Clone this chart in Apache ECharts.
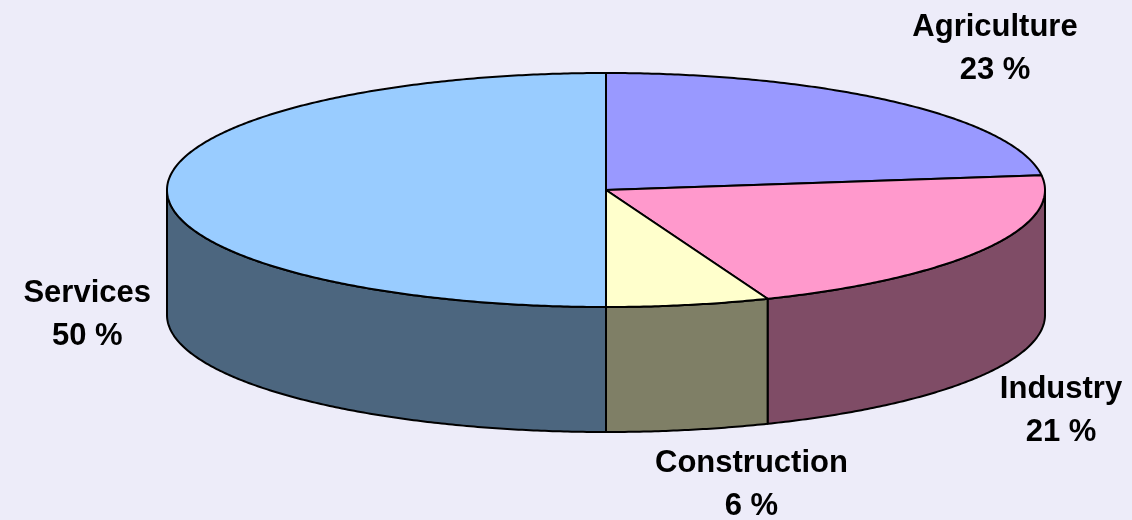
<!DOCTYPE html>
<html>
<head>
<meta charset="utf-8">
<script src="https://cdn.jsdelivr.net/npm/echarts@6/dist/echarts.min.js"></script>
<style>
html, body { margin: 0; padding: 0; background: #edecf9; }
#chart { width: 1132px; height: 520px; }
</style>
</head>
<body>
<div id="chart"></div>
<script>
const sectors = ['Agriculture', 'Industry', 'Construction', 'Services']
const shares = [23, 21, 6, 50]
const topColors = ['#9999ff', '#ff99cc', '#ffffcc', '#99ccff']
const sideColors = ['#4c4c80', '#7f4c66', '#7f7f66', '#4c667f']

// pie geometry in px
const cx = 606, cy = 190, rx = 439, ry = 117, depth = 125
const fontFamily = '"Liberation Sans", Arial, sans-serif'
const fontSize = 31
const lineH = 43

const total = shares.reduce((s, v) => s + v, 0)
const starts = []
let acc = 0
shares.forEach(v => { starts.push(acc); acc += v })

const rad = d => d * Math.PI / 180
const pt = (deg, dy) => [cx + rx * Math.cos(rad(deg)), cy - ry * Math.sin(rad(deg)) + dy]

// points along the ellipse rim, clockwise from a0 down to a1 (degrees)
const rim = (a0, a1, dy) => {
  const n = Math.max(2, Math.ceil((a0 - a1) * 2))
  const out = []
  for (let k = 0; k <= n; k++) out.push(pt(a0 - (a0 - a1) * k / n, dy))
  return out
}

const measure = document.createElement('canvas').getContext('2d')
measure.font = 'bold ' + fontSize + 'px ' + fontFamily

const chart = echarts.init(document.getElementById('chart'))

chart.setOption({
  backgroundColor: '#edecf9',
  animation: false,
  series: [{
    type: 'custom',
    coordinateSystem: 'none',
    silent: true,
    data: shares.map((v, i) => ({ name: sectors[i], value: v })),
    renderItem: (params, api) => {
      const i = params.dataIndex
      const v = api.value(0)
      const a0 = 90 - starts[i] / total * 360
      const a1 = 90 - (starts[i] + v) / total * 360
      const children = []

      // front wall, only the part facing the viewer (-180..0 deg)
      const s0 = Math.min(a0, 0)
      const s1 = Math.max(a1, -180)
      if (s0 > s1) {
        const upper = rim(s0, s1, 0)
        const lower = rim(s0, s1, depth).reverse()
        children.push({
          type: 'polygon',
          shape: { points: upper.concat(lower) },
          style: { fill: sideColors[i], stroke: '#000', lineWidth: 2, lineJoin: 'round' }
        })
      }

      // top face
      children.push({
        type: 'polygon',
        shape: { points: [[cx, cy]].concat(rim(a0, a1, 0)) },
        style: { fill: topColors[i], stroke: '#000', lineWidth: 2, lineJoin: 'round' }
      })

      // label outside the rim, pushed away along the slice bisector
      const mid = (a0 + a1) / 2
      const c = Math.cos(rad(mid))
      const s = Math.sin(rad(mid))
      const p = pt(mid, s > 0.01 ? 0 : depth)
      const lines = [sectors[i], v + ' %']
      const w = Math.max(...lines.map(t => measure.measureText(t).width))
      const lx = p[0] + Math.sign(c) * Math.min(1, 3 * Math.abs(c)) * (w / 2 + 16)
      const ly = p[1] - Math.sign(s) * Math.min(1, 1.3 * Math.abs(s)) * (lineH + 12)
      children.push({
        type: 'text',
        x: lx,
        y: ly,
        style: {
          text: lines.join('\n'),
          fontFamily: fontFamily,
          fontSize: fontSize,
          fontWeight: 'bold',
          lineHeight: lineH,
          fill: '#000',
          align: 'center',
          verticalAlign: 'middle'
        }
      })

      return { type: 'group', children: children }
    }
  }]
})

window.addEventListener('resize', () => chart.resize())
</script>
</body>
</html>
